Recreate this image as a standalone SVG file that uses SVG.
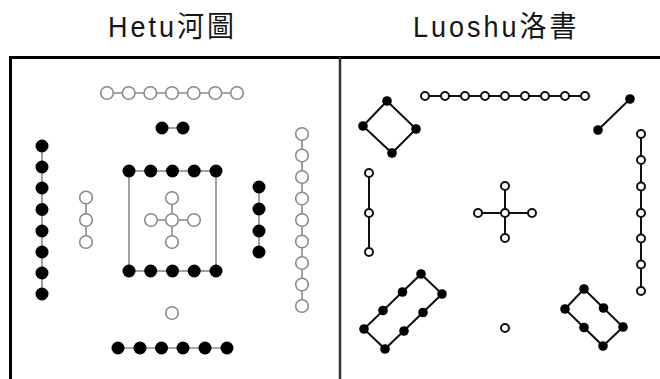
<svg xmlns="http://www.w3.org/2000/svg" width="660" height="379" viewBox="0 0 660 379">
<style>
.title{font-family:"Liberation Sans",Arial,"Noto Sans CJK TC",sans-serif;font-size:27px;fill:#151515;letter-spacing:3px}
.hl{stroke:#8a8a8a;stroke-width:1.6;fill:none}
.ho{fill:#fff;stroke:#8a8a8a;stroke-width:1.6}
.hb{fill:#000}
.ll{stroke:#111;stroke-width:2;fill:none}
.lo{fill:#fff;stroke:#111;stroke-width:2}
.lb{fill:#000}
</style>
<rect width="660" height="379" fill="#fff"/>
<g transform="scale(1,1.08)">
<text class="title" x="108" y="34.3">Hetu河圖</text>
<text class="title" x="413" y="34.3">Luoshu洛書</text>
</g>
<g id="frame">
<line x1="9" y1="57.5" x2="660" y2="57.5" stroke="#000" stroke-width="3"/>
<line x1="10.5" y1="56" x2="10.5" y2="379" stroke="#000" stroke-width="3"/>
<line x1="340" y1="57" x2="340" y2="379" stroke="#333" stroke-width="2.5"/>
</g>
<g id="connectors">
<line class="hl" x1="107" y1="93" x2="237" y2="93"/>
<line class="hl" x1="162" y1="128" x2="183" y2="128"/>
<line class="hl" x1="42" y1="146" x2="42" y2="294"/>
<line class="hl" x1="86" y1="197" x2="86" y2="242"/>
<rect class="hl" x="129" y="171" width="87" height="100"/>
<line class="hl" x1="151" y1="220" x2="194" y2="220"/>
<line class="hl" x1="172" y1="198" x2="172" y2="242"/>
<line class="hl" x1="259" y1="187" x2="259" y2="252"/>
<line class="hl" x1="302" y1="134" x2="302" y2="306"/>
<line class="hl" x1="118" y1="348" x2="227" y2="348"/>
<line class="ll" x1="425" y1="96" x2="585" y2="96"/>
<polygon class="ll" points="387,101 416,129 392,153 363,126"/>
<line class="ll" x1="630" y1="99" x2="598" y2="130"/>
<line class="ll" x1="369" y1="173" x2="369" y2="252"/>
<line class="ll" x1="478" y1="213" x2="532" y2="213"/>
<line class="ll" x1="505" y1="186" x2="505" y2="238"/>
<line class="ll" x1="641" y1="134" x2="641" y2="291"/>
<polygon class="ll" points="421,274 442,294 385,349 364,329"/>
<polygon class="ll" points="584,289 623,327 603,346 565,309"/>
</g>
<g id="hetu-top-7">
<circle class="ho" cx="107" cy="93" r="6.3"/><circle class="ho" cx="128.7" cy="93" r="6.3"/><circle class="ho" cx="150.3" cy="93" r="6.3"/><circle class="ho" cx="172" cy="93" r="6.3"/><circle class="ho" cx="193.7" cy="93" r="6.3"/><circle class="ho" cx="215.3" cy="93" r="6.3"/><circle class="ho" cx="237" cy="93" r="6.3"/>
</g>
<g id="hetu-top-2">
<circle class="hb" cx="162" cy="128" r="6.5"/><circle class="hb" cx="183" cy="128" r="6.5"/>
</g>
<g id="hetu-left-8">
<circle class="hb" cx="42" cy="146" r="6.5"/><circle class="hb" cx="42" cy="167" r="6.5"/><circle class="hb" cx="42" cy="188" r="6.5"/><circle class="hb" cx="42" cy="209.5" r="6.5"/><circle class="hb" cx="42" cy="231" r="6.5"/><circle class="hb" cx="42" cy="252" r="6.5"/><circle class="hb" cx="42" cy="273" r="6.5"/><circle class="hb" cx="42" cy="294" r="6.5"/>
</g>
<g id="hetu-left-3">
<circle class="ho" cx="86" cy="197.5" r="6.3"/><circle class="ho" cx="86" cy="220" r="6.3"/><circle class="ho" cx="86" cy="242" r="6.3"/>
</g>
<g id="hetu-center-top-5">
<circle class="hb" cx="129" cy="171" r="6.5"/><circle class="hb" cx="150.7" cy="171" r="6.5"/><circle class="hb" cx="172.5" cy="171" r="6.5"/><circle class="hb" cx="194.2" cy="171" r="6.5"/><circle class="hb" cx="216" cy="171" r="6.5"/>
</g>
<g id="hetu-center-5">
<circle class="ho" cx="172" cy="198" r="6.3"/><circle class="ho" cx="151" cy="220" r="6.3"/><circle class="ho" cx="172" cy="220" r="6.3"/><circle class="ho" cx="194" cy="220" r="6.3"/><circle class="ho" cx="172" cy="242" r="6.3"/>
</g>
<g id="hetu-center-bottom-5">
<circle class="hb" cx="129" cy="271" r="6.5"/><circle class="hb" cx="150.7" cy="271" r="6.5"/><circle class="hb" cx="172.5" cy="271" r="6.5"/><circle class="hb" cx="194.2" cy="271" r="6.5"/><circle class="hb" cx="216" cy="271" r="6.5"/>
</g>
<g id="hetu-right-4">
<circle class="hb" cx="259" cy="187" r="6.5"/><circle class="hb" cx="259" cy="209" r="6.5"/><circle class="hb" cx="259" cy="231" r="6.5"/><circle class="hb" cx="259" cy="252" r="6.5"/>
</g>
<g id="hetu-right-9">
<circle class="ho" cx="302" cy="134" r="6.3"/><circle class="ho" cx="302" cy="155.5" r="6.3"/><circle class="ho" cx="302" cy="177" r="6.3"/><circle class="ho" cx="302" cy="198.5" r="6.3"/><circle class="ho" cx="302" cy="220" r="6.3"/><circle class="ho" cx="302" cy="241.5" r="6.3"/><circle class="ho" cx="302" cy="263" r="6.3"/><circle class="ho" cx="302" cy="284.5" r="6.3"/><circle class="ho" cx="302" cy="306" r="6.3"/>
</g>
<g id="hetu-bottom-1">
<circle class="ho" cx="172" cy="313" r="6.3"/>
</g>
<g id="hetu-bottom-6">
<circle class="hb" cx="118" cy="348" r="6.5"/><circle class="hb" cx="140" cy="348" r="6.5"/><circle class="hb" cx="161.5" cy="348" r="6.5"/><circle class="hb" cx="183" cy="348" r="6.5"/><circle class="hb" cx="205" cy="348" r="6.5"/><circle class="hb" cx="227" cy="348" r="6.5"/>
</g>
<g id="luoshu-top-9">
<circle class="lo" cx="425" cy="96" r="4"/><circle class="lo" cx="445" cy="96" r="4"/><circle class="lo" cx="465" cy="96" r="4"/><circle class="lo" cx="485" cy="96" r="4"/><circle class="lo" cx="505" cy="96" r="4"/><circle class="lo" cx="525" cy="96" r="4"/><circle class="lo" cx="545" cy="96" r="4"/><circle class="lo" cx="565" cy="96" r="4"/><circle class="lo" cx="585" cy="96" r="4"/>
</g>
<g id="luoshu-diamond-4">
<circle class="lb" cx="387" cy="101" r="4.8"/><circle class="lb" cx="416" cy="129" r="4.8"/><circle class="lb" cx="392" cy="153" r="4.8"/><circle class="lb" cx="363" cy="126" r="4.8"/>
</g>
<g id="luoshu-pair-2">
<circle class="lb" cx="630" cy="99" r="4.8"/><circle class="lb" cx="598" cy="130" r="4.8"/>
</g>
<g id="luoshu-left-3">
<circle class="lo" cx="369" cy="173" r="4"/><circle class="lo" cx="369" cy="213" r="4"/><circle class="lo" cx="369" cy="252" r="4"/>
</g>
<g id="luoshu-center-5">
<circle class="lo" cx="505" cy="186" r="4"/><circle class="lo" cx="478" cy="213" r="4"/><circle class="lo" cx="505" cy="213" r="4"/><circle class="lo" cx="532" cy="213" r="4"/><circle class="lo" cx="505" cy="238" r="4"/>
</g>
<g id="luoshu-right-7">
<circle class="lo" cx="641" cy="134" r="4"/><circle class="lo" cx="641" cy="160" r="4"/><circle class="lo" cx="641" cy="186.5" r="4"/><circle class="lo" cx="641" cy="213" r="4"/><circle class="lo" cx="641" cy="238.5" r="4"/><circle class="lo" cx="641" cy="264.5" r="4"/><circle class="lo" cx="641" cy="291" r="4"/>
</g>
<g id="luoshu-rect-8">
<circle class="lb" cx="421" cy="274" r="4.8"/><circle class="lb" cx="442" cy="294" r="4.8"/><circle class="lb" cx="423" cy="312.5" r="4.8"/><circle class="lb" cx="404" cy="331" r="4.8"/><circle class="lb" cx="385" cy="349" r="4.8"/><circle class="lb" cx="364" cy="329" r="4.8"/><circle class="lb" cx="383" cy="310.5" r="4.8"/><circle class="lb" cx="402.5" cy="292" r="4.8"/>
</g>
<g id="luoshu-bottom-1">
<circle class="lo" cx="505" cy="328" r="4"/>
</g>
<g id="luoshu-rect-6">
<circle class="lb" cx="584" cy="289" r="4.8"/><circle class="lb" cx="603.5" cy="308" r="4.8"/><circle class="lb" cx="623" cy="327" r="4.8"/><circle class="lb" cx="603" cy="346" r="4.8"/><circle class="lb" cx="584" cy="327.5" r="4.8"/><circle class="lb" cx="565" cy="309" r="4.8"/>
</g>
</svg>
